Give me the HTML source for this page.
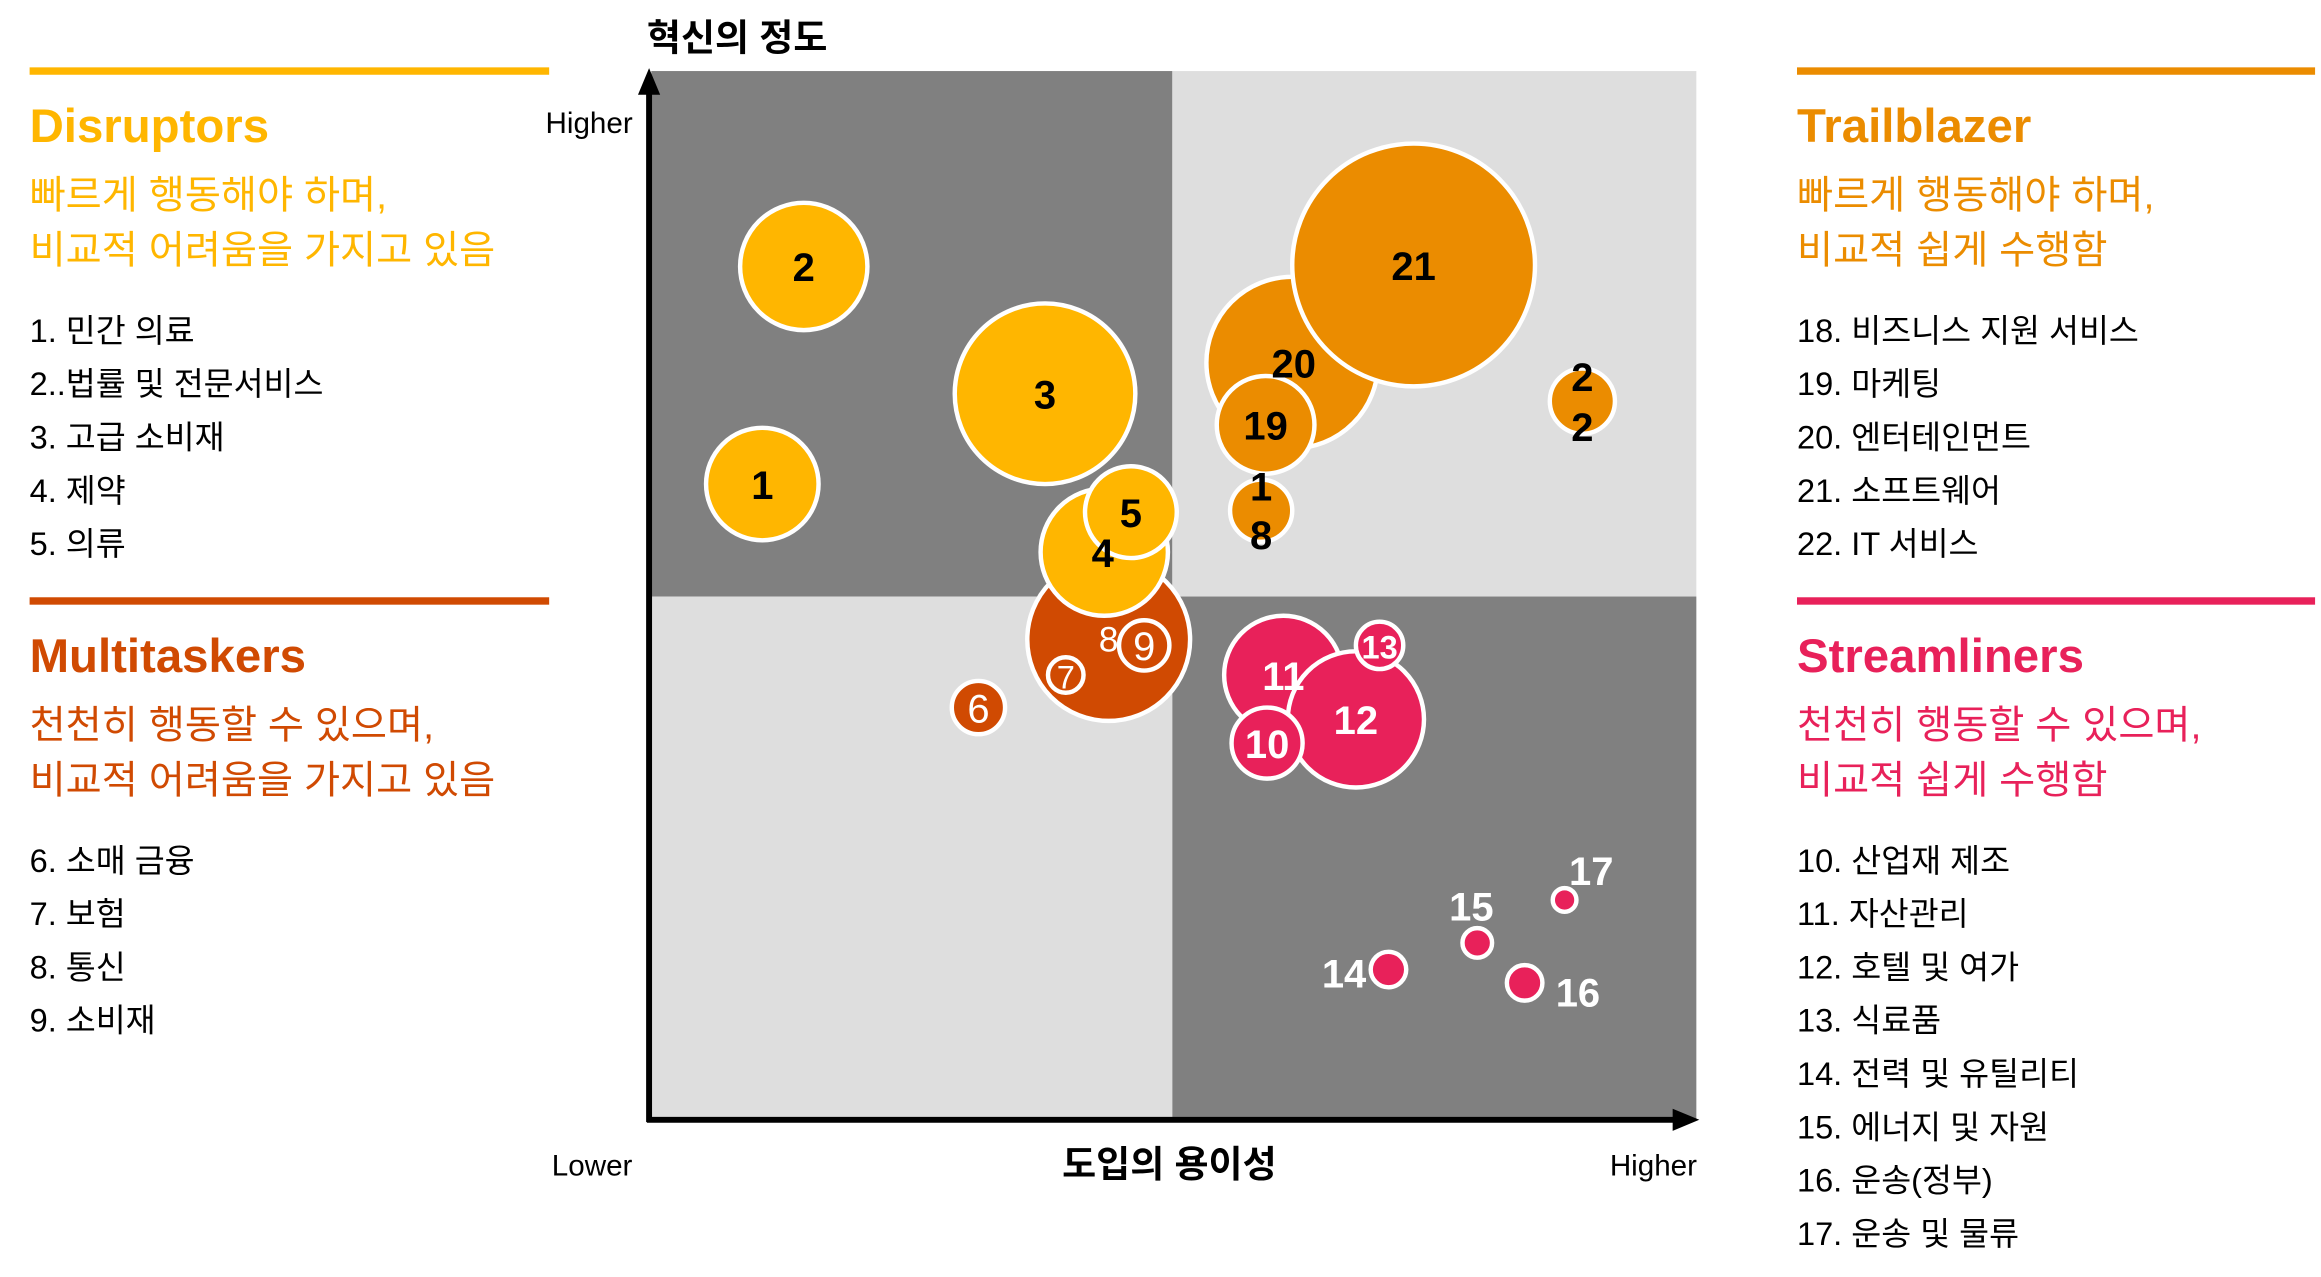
<!DOCTYPE html>
<html><head><meta charset="utf-8"><style>
html,body{margin:0;padding:0;background:#fff;width:2321px;height:1277px;overflow:hidden}
svg{display:block}
text{font-family:"Liberation Sans","Noto Sans CJK KR",sans-serif}
.k{font-family:"Noto Sans CJK KR","Liberation Sans",sans-serif}
</style></head><body>
<svg width="2321" height="1277" viewBox="0 0 1568 862.7" xmlns="http://www.w3.org/2000/svg">
<rect x="440" y="48" width="352" height="355" fill="#808080"/>
<rect x="792" y="48" width="354" height="355" fill="#dedede"/>
<rect x="440" y="403" width="352" height="354" fill="#dedede"/>
<rect x="792" y="403" width="354" height="354" fill="#808080"/>
<line x1="438.5" y1="758" x2="438.5" y2="60" stroke="#000" stroke-width="4"/>
<polygon points="438.5,46 431,64 446,64" fill="#000"/>
<line x1="437" y1="756.5" x2="1135" y2="756.5" stroke="#000" stroke-width="4"/>
<polygon points="1148,756.5 1130,749 1130,764" fill="#000"/>
<g class="k" font-size="23" fill="#000">
<text x="498" y="34" text-anchor="middle" font-weight="bold" font-size="25">혁신의 정도</text>
<text x="398" y="90" text-anchor="middle" font-size="20">Higher</text>
<text x="400" y="794" text-anchor="middle" font-size="20">Lower</text>
<text x="790" y="795" text-anchor="middle" font-weight="bold" font-size="25">도입의 용이성</text>
<text x="1117" y="794" text-anchor="middle" font-size="20">Higher</text>
</g>
<g stroke="#fff" stroke-width="3">
<circle cx="543" cy="180" r="43" fill="#FFB600"/>
<circle cx="706" cy="266" r="61" fill="#FFB600"/>
<circle cx="515" cy="327" r="38" fill="#FFB600"/>
<circle cx="749" cy="432" r="55" fill="#D04A02"/>
<circle cx="746" cy="373" r="43" fill="#FFB600"/>
<circle cx="764" cy="346" r="31" fill="#FFB600"/>
<circle cx="773" cy="436" r="17" fill="#D04A02"/>
<circle cx="720" cy="456" r="12" fill="#D04A02"/>
<circle cx="661" cy="478" r="18" fill="#D04A02"/>
<circle cx="873" cy="245" r="58" fill="#EB8C00"/>
<circle cx="955" cy="179" r="82" fill="#EB8C00"/>
<circle cx="855" cy="287" r="33" fill="#EB8C00"/>
<circle cx="852" cy="345" r="21" fill="#EB8C00"/>
<circle cx="1069" cy="271" r="22" fill="#EB8C00"/>
<circle cx="867" cy="456" r="40" fill="#E8215A"/>
<circle cx="916" cy="486" r="46" fill="#E8215A"/>
<circle cx="932" cy="436" r="16" fill="#E8215A"/>
<circle cx="856" cy="502" r="24" fill="#E8215A"/>
<circle cx="938" cy="655" r="12" fill="#E8215A"/>
<circle cx="998" cy="637" r="10" fill="#E8215A"/>
<circle cx="1030" cy="664" r="12" fill="#E8215A"/>
<circle cx="1057" cy="608" r="8" fill="#E8215A"/>
</g>
<g font-size="27" font-weight="bold" text-anchor="middle" fill="#000">
<text x="543" y="190">2</text>
<text x="706" y="276">3</text>
<text x="515" y="337">1</text>
<text x="745" y="383">4</text>
<text x="764" y="356">5</text>
<text x="955" y="189">21</text>
<text x="874" y="255">20</text>
<text x="855" y="297">19</text>
<text x="852" y="338">1</text>
<text x="852" y="371">8</text>
<text x="1069" y="264">2</text>
<text x="1069" y="298">2</text>
</g>
<g font-size="27" text-anchor="middle" fill="#fff">
<text x="749" y="440" font-size="24">8</text>
<text x="773" y="446">9</text>
<text x="720" y="465" font-size="22">7</text>
<text x="661" y="488">6</text>
</g>
<g font-size="27" font-weight="bold" text-anchor="middle" fill="#fff">
<text x="867" y="466">11</text>
<text x="916" y="496">12</text>
<text x="932" y="445" font-size="22">13</text>
<text x="856" y="512">10</text>
<text x="908" y="667">14</text>
<text x="994" y="622">15</text>
<text x="1066" y="680">16</text>
<text x="1075" y="598">17</text>
</g>
<rect x="20" y="45.5" width="351" height="5" fill="#FFB600"/>
<rect x="20" y="403.5" width="351" height="5" fill="#D04A02"/>
<rect x="1214" y="45.5" width="350" height="5" fill="#EB8C00"/>
<rect x="1214" y="403.5" width="350" height="5" fill="#E8215A"/>
<g class="k">
<text x="20" y="96" font-size="32" font-weight="bold" fill="#FFB600">Disruptors</text>
<text x="20" y="141" font-size="26.5" fill="#FFB600">빠르게 행동해야 하며,</text>
<text x="20" y="178" font-size="26.5" fill="#FFB600">비교적 어려움을 가지고 있음</text>
<g font-size="22" fill="#000">
<text x="20" y="231">1. 민간 의료</text>
<text x="20" y="267">2..법률 및 전문서비스</text>
<text x="20" y="303">3. 고급 소비재</text>
<text x="20" y="339">4. 제약</text>
<text x="20" y="375">5. 의류</text>
</g>
<text x="20" y="454" font-size="32" font-weight="bold" fill="#D04A02">Multitaskers</text>
<text x="20" y="499" font-size="26.5" fill="#D04A02">천천히 행동할 수 있으며,</text>
<text x="20" y="536" font-size="26.5" fill="#D04A02">비교적 어려움을 가지고 있음</text>
<g font-size="22" fill="#000">
<text x="20" y="589">6. 소매 금융</text>
<text x="20" y="625">7. 보험</text>
<text x="20" y="661">8. 통신</text>
<text x="20" y="697">9. 소비재</text>
</g>
<text x="1214" y="96" font-size="32" font-weight="bold" fill="#EB8C00">Trailblazer</text>
<text x="1214" y="141" font-size="26.5" fill="#EB8C00">빠르게 행동해야 하며,</text>
<text x="1214" y="178" font-size="26.5" fill="#EB8C00">비교적 쉽게 수행함</text>
<g font-size="22" fill="#000">
<text x="1214" y="231">18. 비즈니스 지원 서비스</text>
<text x="1214" y="267">19. 마케팅</text>
<text x="1214" y="303">20. 엔터테인먼트</text>
<text x="1214" y="339">21. 소프트웨어</text>
<text x="1214" y="375">22. IT 서비스</text>
</g>
<text x="1214" y="454" font-size="32" font-weight="bold" fill="#E8215A">Streamliners</text>
<text x="1214" y="499" font-size="26.5" fill="#E8215A">천천히 행동할 수 있으며,</text>
<text x="1214" y="536" font-size="26.5" fill="#E8215A">비교적 쉽게 수행함</text>
<g font-size="22" fill="#000">
<text x="1214" y="589">10. 산업재 제조</text>
<text x="1214" y="625">11. 자산관리</text>
<text x="1214" y="661">12. 호텔 및 여가</text>
<text x="1214" y="697">13. 식료품</text>
<text x="1214" y="733">14. 전력 및 유틸리티</text>
<text x="1214" y="769">15. 에너지 및 자원</text>
<text x="1214" y="805">16. 운송(정부)</text>
<text x="1214" y="841">17. 운송 및 물류</text>
</g>
</g>
</svg>
</body></html>
